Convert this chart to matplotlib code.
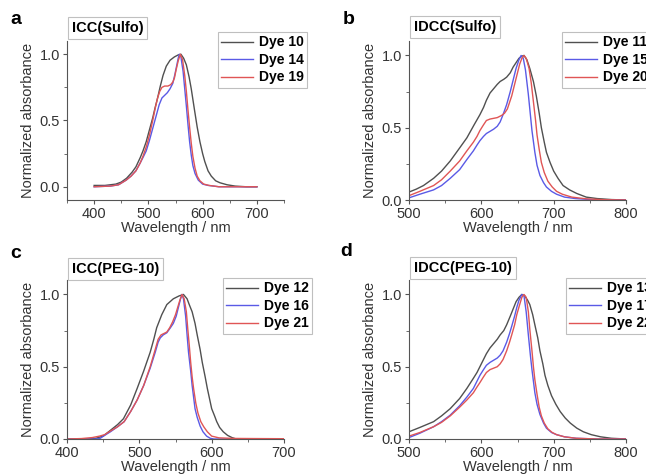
import matplotlib.pyplot as plt
from matplotlib.ticker import MultipleLocator

plt.rcParams['font.family'] = ['Liberation Sans', 'DejaVu Sans']

# Panel a: ICC(Sulfo)
wl_10 = [400, 420, 440, 450, 460, 470, 477, 485, 490, 496, 502, 508, 512, 517, 522, 527, 533, 540, 548, 555,
         560, 565, 570, 575, 579, 585, 590, 595, 600, 604, 610, 616, 624, 632, 645, 660, 680, 700]
ab_10 = [0.01, 0.01, 0.02, 0.035, 0.065, 0.11, 0.15, 0.22, 0.27, 0.34, 0.43, 0.52, 0.59, 0.67, 0.76, 0.84, 0.91,
         0.955, 0.98, 0.995, 1.0, 0.97, 0.92, 0.83, 0.74, 0.58, 0.45, 0.34, 0.25, 0.19, 0.12, 0.08, 0.045, 0.03,
         0.015, 0.005, 0.0, 0.0]
wl_14 = [400, 430, 445, 459, 468, 477, 485, 490, 496, 502, 508, 514, 520, 525, 530, 535, 540, 545, 549, 552,
         555, 557, 560, 564, 567, 570, 573, 576, 579, 582, 586, 592, 600, 610, 630, 700]
ab_14 = [0.0, 0.005, 0.015, 0.05, 0.08, 0.12, 0.18, 0.22, 0.27, 0.35, 0.44, 0.53, 0.62, 0.67, 0.69, 0.71, 0.74,
         0.78, 0.85, 0.91, 0.97, 1.0, 0.98, 0.87, 0.74, 0.61, 0.47, 0.34, 0.24, 0.16, 0.10, 0.05, 0.02, 0.01,
         0.0, 0.0]
wl_19 = [400, 430, 445, 459, 468, 477, 485, 490, 496, 502, 508, 513, 517, 521, 525, 530, 536, 541, 545, 548,
         551, 555, 559, 563, 567, 570, 573, 576, 579, 582, 586, 590, 595, 602, 612, 630, 700]
ab_19 = [0.0, 0.005, 0.015, 0.05, 0.08, 0.12, 0.18, 0.23, 0.30, 0.39, 0.50, 0.60, 0.67, 0.72, 0.75, 0.76, 0.76,
         0.77, 0.79, 0.82, 0.88, 0.95, 1.0, 0.96, 0.84, 0.72, 0.58, 0.45, 0.33, 0.23, 0.14, 0.08, 0.045, 0.02,
         0.01, 0.0, 0.0]

# Panel b: IDCC(Sulfo)
wl_11 = [500, 510, 520, 534, 545, 557, 570, 580, 590, 598, 603, 607, 612, 617, 622, 626, 631, 635, 640, 644,
         648, 652, 656, 659, 663, 667, 672, 676, 680, 683, 687, 690, 695, 700, 706, 713, 722, 732, 745, 760,
         780, 800]
ab_11 = [0.055, 0.075, 0.10, 0.15, 0.20, 0.27, 0.36, 0.43, 0.52, 0.59, 0.64, 0.69, 0.74, 0.77, 0.80, 0.82,
         0.835, 0.85, 0.88, 0.92, 0.95, 0.98, 0.995, 1.0, 0.97, 0.91, 0.82, 0.72, 0.60, 0.50, 0.40, 0.33, 0.26,
         0.20, 0.15, 0.10, 0.07, 0.045, 0.02, 0.01, 0.003, 0.0]
wl_15 = [500, 515, 534, 545, 557, 570, 580, 589, 594, 598, 603, 607, 612, 617, 622, 626, 630, 635, 640, 644,
         648, 652, 655, 658, 661, 665, 668, 670, 674, 677, 681, 686, 690, 697, 704, 715, 730, 760, 800]
ab_15 = [0.015, 0.04, 0.07, 0.10, 0.15, 0.21, 0.28, 0.34, 0.38, 0.41, 0.44, 0.46, 0.475, 0.49, 0.51, 0.54,
         0.59, 0.66, 0.75, 0.83, 0.91, 0.97, 1.0, 0.98, 0.90, 0.73, 0.58, 0.48, 0.33, 0.24, 0.17, 0.12, 0.09,
         0.06, 0.04, 0.02, 0.01, 0.0, 0.0]
wl_20 = [500, 515, 534, 545, 557, 570, 580, 589, 594, 598, 603, 607, 612, 617, 622, 628, 632, 636, 642, 646,
         649, 653, 656, 659, 662, 666, 669, 672, 675, 677, 680, 683, 687, 692, 698, 704, 712, 725, 745, 770, 800]
ab_20 = [0.03, 0.06, 0.10, 0.14, 0.20, 0.27, 0.34, 0.40, 0.44, 0.48, 0.52, 0.55, 0.56, 0.565, 0.57, 0.585,
         0.60, 0.63, 0.72, 0.80, 0.86, 0.94, 0.98, 1.0, 0.98, 0.91, 0.81, 0.68, 0.55, 0.45, 0.35, 0.26, 0.19,
         0.13, 0.09, 0.06, 0.04, 0.02, 0.008, 0.002, 0.0]

# Panel c: ICC(PEG-10)
wl_12 = [400, 430, 440, 450, 460, 470, 478, 488, 497, 506, 515, 520, 524, 531, 538, 547, 555, 561, 566, 569,
         573, 577, 580, 584, 587, 591, 594, 597, 600, 604, 607, 611, 616, 622, 628, 634, 700]
ab_12 = [0.0, 0.0, 0.005, 0.02, 0.06, 0.10, 0.14, 0.235, 0.35, 0.47, 0.60, 0.69, 0.77, 0.86, 0.93, 0.97, 0.99,
         1.0, 0.97, 0.93, 0.88, 0.80, 0.72, 0.62, 0.53, 0.43, 0.35, 0.28, 0.21, 0.16, 0.12, 0.08, 0.05, 0.025,
         0.01, 0.0, 0.0]
wl_16 = [400, 440, 446, 452, 460, 470, 479, 488, 497, 506, 515, 522, 526, 529, 533, 538, 543, 547, 551, 554,
         557, 559, 561, 564, 566, 568, 571, 573, 575, 577, 580, 584, 588, 593, 598, 603, 700]
ab_16 = [0.0, 0.0, 0.005, 0.025, 0.05, 0.085, 0.12, 0.19, 0.27, 0.37, 0.49, 0.60, 0.67, 0.70, 0.72, 0.735,
         0.77, 0.80, 0.85, 0.91, 0.97, 1.0, 0.97, 0.85, 0.72, 0.60, 0.47, 0.37, 0.29, 0.21, 0.15, 0.09, 0.05,
         0.02, 0.005, 0.0, 0.0]
wl_21 = [400, 420, 435, 445, 452, 460, 470, 479, 488, 497, 506, 515, 522, 526, 530, 534, 538, 542, 546, 550,
         553, 556, 559, 562, 565, 567, 569, 571, 573, 575, 578, 581, 585, 589, 594, 600, 610, 630, 660, 700]
ab_21 = [0.0, 0.003, 0.01, 0.02, 0.03, 0.055, 0.085, 0.12, 0.19, 0.27, 0.37, 0.50, 0.62, 0.69, 0.72, 0.73,
         0.74, 0.77, 0.81, 0.86, 0.91, 0.96, 1.0, 0.97, 0.88, 0.76, 0.65, 0.53, 0.43, 0.35, 0.25, 0.18, 0.12,
         0.085, 0.05, 0.02, 0.008, 0.004, 0.003, 0.002]

# Panel d: IDCC(PEG-10)
wl_13 = [500, 515, 534, 545, 557, 570, 580, 589, 594, 598, 603, 607, 612, 617, 622, 626, 631, 635, 640, 644,
         648, 652, 656, 660, 664, 667, 671, 674, 678, 681, 685, 688, 692, 697, 703, 709, 716, 723, 732, 741,
         752, 765, 780, 800]
ab_13 = [0.05, 0.08, 0.12, 0.16, 0.21, 0.28, 0.35, 0.42, 0.46, 0.50, 0.55, 0.59, 0.63, 0.66, 0.69, 0.72,
         0.75, 0.79, 0.85, 0.90, 0.95, 0.98, 1.0, 0.99, 0.96, 0.93, 0.86, 0.79, 0.70, 0.61, 0.52, 0.44, 0.37,
         0.30, 0.24, 0.19, 0.145, 0.11, 0.075, 0.05, 0.03, 0.015, 0.005, 0.0]
wl_17 = [500, 515, 534, 545, 557, 570, 580, 589, 594, 598, 603, 607, 612, 617, 622, 626, 630, 635, 639, 642,
         646, 649, 652, 656, 659, 662, 665, 668, 670, 672, 674, 677, 681, 686, 690, 697, 704, 715, 731, 760, 800]
ab_17 = [0.01, 0.04, 0.085, 0.12, 0.165, 0.23, 0.29, 0.35, 0.40, 0.44, 0.48, 0.51, 0.53, 0.545, 0.56, 0.58,
         0.61, 0.67, 0.73, 0.78, 0.85, 0.91, 0.96, 1.0, 0.99, 0.88, 0.72, 0.57, 0.48, 0.40, 0.32, 0.24, 0.17,
         0.11, 0.075, 0.045, 0.03, 0.015, 0.005, 0.0, 0.0]
wl_22 = [500, 515, 534, 545, 557, 570, 580, 589, 594, 598, 603, 607, 612, 617, 622, 626, 630, 635, 639, 642,
         646, 649, 653, 656, 659, 662, 665, 667, 670, 672, 674, 677, 680, 683, 687, 692, 698, 704, 715, 731,
         760, 800]
ab_22 = [0.02, 0.045, 0.085, 0.115, 0.16, 0.22, 0.27, 0.32, 0.36, 0.39, 0.43, 0.46, 0.48, 0.49, 0.50, 0.52,
         0.55, 0.61, 0.67, 0.72, 0.79, 0.86, 0.93, 0.98, 1.0, 0.98, 0.88, 0.76, 0.61, 0.50, 0.41, 0.31, 0.22,
         0.16, 0.11, 0.07, 0.045, 0.03, 0.015, 0.005, 0.0, 0.0]

W, H = 646, 475
fig = plt.figure(figsize=(W / 100, H / 100), dpi=100)

col_k = '#505050'
col_b = '#5a5ae6'
col_r = '#e05555'
tick_col = '#333333'


def rect(left, top, width, height):
    return [left / W, 1 - (top + height) / H, width / W, height / H]


panels = [
    # letter, title, axes rect (px), xlim, ylim, series, letter pos, title pos, legend pos
    ('a', 'ICC(Sulfo)', (67, 41, 217, 159), (350, 750), (-0.1, 1.1),
     [(wl_10, ab_10, col_k, 'Dye 10'), (wl_14, ab_14, col_b, 'Dye 14'), (wl_19, ab_19, col_r, 'Dye 19')],
     (10, 19), (72, 28), (218, 32)),
    ('b', 'IDCC(Sulfo)', (409, 41, 217, 159), (500, 800), (0, 1.1),
     [(wl_11, ab_11, col_k, 'Dye 11'), (wl_15, ab_15, col_b, 'Dye 15'), (wl_20, ab_20, col_r, 'Dye 20')],
     (343, 19), (414, 27), (562, 32)),
    ('c', 'ICC(PEG-10)', (67, 280, 217, 159), (400, 700), (0, 1.1),
     [(wl_12, ab_12, col_k, 'Dye 12'), (wl_16, ab_16, col_b, 'Dye 16'), (wl_21, ab_21, col_r, 'Dye 21')],
     (10, 253), (72, 269), (223, 278)),
    ('d', 'IDCC(PEG-10)', (409, 280, 217, 159), (500, 800), (0, 1.1),
     [(wl_13, ab_13, col_k, 'Dye 13'), (wl_17, ab_17, col_b, 'Dye 17'), (wl_22, ab_22, col_r, 'Dye 22')],
     (340, 252), (414, 268), (566, 278)),
]

for letter, title, r, xlim, ylim, series, lpos, tpos, legpos in panels:
    ax = fig.add_axes(rect(*r))
    for x, y, c, lab in series:
        ax.plot(x, y, color=c, lw=1.0, label=lab)
    ax.set_xlim(*xlim)
    ax.set_ylim(*ylim)
    ax.xaxis.set_major_locator(MultipleLocator(100))
    ax.xaxis.set_minor_locator(MultipleLocator(50))
    ax.yaxis.set_minor_locator(MultipleLocator(0.25))
    ax.set_yticks([0.0, 0.5, 1.0])
    ax.set_yticklabels(['0.0', '0.5', '1.0'])
    for s in ['top', 'right']:
        ax.spines[s].set_visible(False)
    for s in ['left', 'bottom']:
        ax.spines[s].set_color('#555555')
        ax.spines[s].set_linewidth(0.8)
    ax.tick_params(which='major', direction='out', length=3, width=0.8, color='#555555',
                   labelsize=10.5, labelcolor=tick_col, pad=2)
    ax.tick_params(which='minor', direction='out', length=2, width=0.6, color='#555555')
    ax.set_xlabel('Wavelength / nm', fontsize=10.5, color=tick_col, labelpad=0)
    ax.set_ylabel('Normalized absorbance', fontsize=10.5, color=tick_col, labelpad=3)

    fig.text(lpos[0] / W, 1 - lpos[1] / H, letter, fontsize=14, fontweight='bold', va='center', ha='left')
    fig.text(tpos[0] / W, 1 - tpos[1] / H, title, fontsize=10.5, fontweight='bold', va='center', ha='left',
             bbox=dict(boxstyle='square,pad=0.25', fc='white', ec='#c0c0c0', lw=0.8))

    leg = ax.legend(loc='upper left', bbox_to_anchor=(legpos[0] / W, 1 - legpos[1] / H),
                    bbox_transform=fig.transFigure, frameon=True, fancybox=False,
                    prop={'weight': 'bold', 'size': 10}, handlelength=2.3, handletextpad=0.4,
                    labelspacing=0.25, borderpad=0.25, borderaxespad=0)
    leg.get_frame().set_edgecolor('#b0b0b0')
    leg.get_frame().set_linewidth(0.8)

fig.savefig('out.png', dpi=100)
